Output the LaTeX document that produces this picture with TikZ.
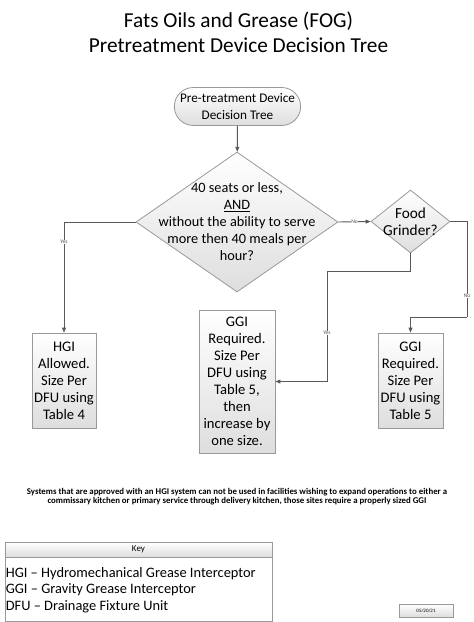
\documentclass[tikz,border=0pt]{standalone}
\usepackage{fontspec}
\setmainfont{Carlito}
\usetikzlibrary{positioning, shapes.geometric, shapes.misc, arrows.meta}

\begin{document}
\begin{tikzpicture}[x=1pt, y=-1pt, font=\fontsize{14.3}{17}\selectfont,
  line/.style={draw=black!65, line width=0.9pt},
  arr/.style={line, -{Triangle[length=5pt, width=4pt]}},
  shade/.style={draw=black!40, line width=0.8pt, top color=white, bottom color=black!13},
  box/.style={shade, rectangle, align=center, inner sep=0pt, font=\fontsize{14.6}{17}\selectfont},
  dec/.style={shade, diamond, inner sep=0pt},
  lbl/.style={fill=white, inner sep=0.6pt, text=black!70, font=\fontsize{5.5}{6}\selectfont},
]
  \useasboundingbox (0,0) rectangle (474,622);

  % title
  \node[align=center, font=\fontsize{21.3}{25}\selectfont] (title) at (238.5,32.5)
    {Fats Oils and Grease (FOG)\\Pretreatment Device Decision Tree};

  % start
  \node[shade, rounded rectangle, minimum width=133pt, minimum height=38pt, align=center,
    font=\fontsize{13.2}{17}\selectfont] (st) at (237.5,106.5)
    {Pre-treatment Device\\Decision Tree};

  % decisions
  \node[dec, minimum width=202pt, minimum height=140pt] (d1) at (237,222) {};
  \node[align=center] (q1) at (237,222)
    {40 seats or less,\\\underline{AND}\\without the ability to serve\\more then 40 meals per\\hour?};
  \node[dec, minimum width=79pt, minimum height=63pt] (d2) at (410.5,221.5) {};
  \node[align=center, font=\fontsize{15.3}{17.5}\selectfont] (q2) at (410.5,221.5) {Food\\Grinder?};

  % results
  \node[box, minimum width=64pt, minimum height=95pt] (hgi) at (64,380.5)
    {HGI\\Allowed.\\Size Per\\DFU using\\Table 4};
  \node[box, minimum width=76pt, minimum height=143pt] (ggia) at (237,381.5)
    {GGI\\Required.\\Size Per\\DFU using\\Table 5,\\then\\increase by\\one size.};
  \node[box, minimum width=65pt, minimum height=95pt] (ggib) at (410.5,380.5)
    {GGI\\Required.\\Size Per\\DFU using\\Table 5};

  \coordinate (yb) at (327,271);
  \coordinate (nb) at (467,317);

  \draw[arr] (st) -- (d1);
  \draw[arr] (d1.east) -- node[lbl] {No} (d2.west);
  \draw[arr] (d1.west) -| node[lbl, pos=.59] {Yes} (hgi.north);
  \draw[line] (d2.south) |- (yb);
  \draw[arr] (yb) |- node[lbl, pos=.28] {Yes} (ggia.east);
  \draw[line] (d2.east) -| node[lbl, pos=.89] {No} (nb);
  \draw[arr] (nb) -| (ggib.north);

  % note
  \node[align=center, font=\bfseries\fontsize{8.8}{9.4}\selectfont] (note) at (237,496.5)
    {Systems that are approved with an HGI system can not be used in facilities wishing to expand operations to either a\\
     commissary kitchen or primary service through delivery kitchen, those sites require a properly sized GGI};

  % key
  \node[box, minimum width=267pt, minimum height=15pt, font=\fontsize{9}{10}\selectfont] (keyh) at (138.5,549.5) {Key};
  \node[draw=black!40, line width=0.8pt, fill=white, minimum width=267pt, minimum height=64pt,
    below=0pt of keyh, inner sep=0pt] (keyb) {};
  \node[anchor=west, align=left, inner sep=0pt, font=\fontsize{14.4}{16.5}\selectfont] (keyt) at ([xshift=1pt]keyb.west)
    {HGI -- Hydromechanical Grease Interceptor\\GGI -- Gravity Grease Interceptor\\DFU -- Drainage Fixture Unit};

  % date
  \node[box, minimum width=54pt, minimum height=13pt, font=\fontsize{5}{6}\selectfont] (date) at (426,610.5) {05/20/21};
\end{tikzpicture}
\end{document}
